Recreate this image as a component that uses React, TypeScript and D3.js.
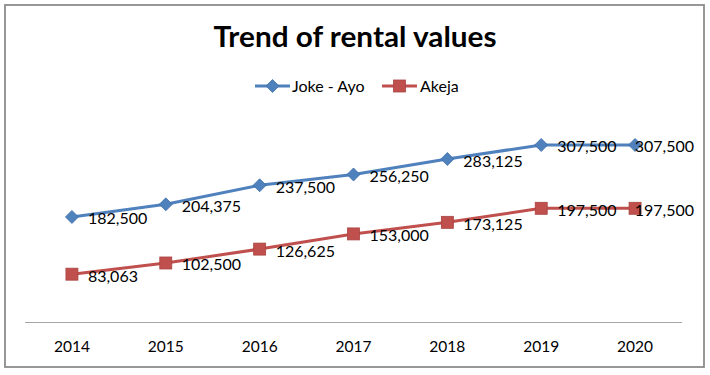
import React from "react";
import * as d3 from "d3";

const years = ["2014", "2015", "2016", "2017", "2018", "2019", "2020"];
const jokeAyo = [182500, 204375, 237500, 256250, 283125, 307500, 307500];
const akeja = [83063, 102500, 126625, 153000, 173125, 197500, 197500];
const seriesNames = ["Joke - Ayo", "Akeja"];
const seriesColors = ["#4f81bd", "#c0504d"];
const yMax = 350000;

const W = 710;
const H = 375;
const FONT = "Lato, 'Liberation Sans', sans-serif";
const LABEL_SIZE = 16;

let ctx: CanvasRenderingContext2D | null = null;
function measure(t: string, size: number) {
  if (!ctx) ctx = document.createElement("canvas").getContext("2d");
  if (!ctx) return t.length * size * 0.55;
  ctx.font = `${size}px ${FONT}`;
  return ctx.measureText(t).width;
}

export default function App() {
  const x = d3.scaleBand<string>().domain(years).range([25, 682]);
  const y = d3.scaleLinear().domain([0, yMax]).range([322, 120.5]);
  const cxOf = (i: number) => (x(years[i]) as number) + x.bandwidth() / 2;
  const line = d3
    .line<number>()
    .x((_, i) => cxOf(i))
    .y((d) => y(d));
  const fmt = d3.format(",");
  const series = [jokeAyo, akeja];
  const rightLimit = 694;

  const marker = (si: number, cx: number, cy: number, key: string) =>
    si === 0 ? (
      <path
        key={key}
        d={`M${cx},${cy - 6.5}L${cx + 6.5},${cy}L${cx},${cy + 6.5}L${cx - 6.5},${cy}Z`}
        fill={seriesColors[0]}
        stroke="#3f6fa8"
        strokeWidth={0.8}
      />
    ) : (
      <rect
        key={key}
        x={cx - 6}
        y={cy - 6}
        width={12}
        height={12}
        fill={seriesColors[1]}
        stroke="#a94441"
        strokeWidth={0.8}
      />
    );

  return (
    <svg
      width={W}
      height={H}
      style={{ position: "absolute", left: 0, top: 0, background: "#fff" }}
      fontFamily={FONT}
    >
      <rect x={5} y={5} width={699} height={362} fill="#fff" stroke="#8c8c8c" strokeWidth={1.8} />
      <text
        x={355}
        y={47}
        textAnchor="middle"
        fontSize={29}
        fontWeight="bold"
        fill="#000"
        textLength={283}
        lengthAdjust="spacingAndGlyphs"
      >
        Trend of rental values
      </text>
      {[
        { lx: 255, tx: 292 },
        { lx: 382, tx: 420 },
      ].map((p, si) => (
        <g key={si}>
          <line x1={p.lx} x2={p.lx + 35} y1={86} y2={86} stroke={seriesColors[si]} strokeWidth={3} />
          {marker(si, p.lx + 17.5, 86, "lm" + si)}
          <text x={p.tx} y={91.5} fontSize={16} fill="#000">
            {seriesNames[si]}
          </text>
        </g>
      ))}
      <line x1={25} x2={682} y1={322.5} y2={322.5} stroke="#a6a6a6" strokeWidth={1.2} />
      {years.map((yr, i) => (
        <text key={yr} x={cxOf(i)} y={351.5} textAnchor="middle" fontSize={15.5} fill="#000">
          {yr}
        </text>
      ))}
      {series.map((vals, si) => (
        <g key={si}>
          <path d={line(vals) || ""} fill="none" stroke={seriesColors[si]} strokeWidth={3} strokeLinejoin="round" />
          {vals.map((v, i) => marker(si, cxOf(i), y(v), `m${si}-${i}`))}
          {vals.map((v, i) => {
            const t = fmt(v);
            const w = measure(t, LABEL_SIZE);
            const lx = Math.min(cxOf(i) + 16, rightLimit - w);
            return (
              <text key={`t${si}-${i}`} x={lx} y={y(v) + 7.5} fontSize={LABEL_SIZE} fill="#000">
                {t}
              </text>
            );
          })}
        </g>
      ))}
    </svg>
  );
}
